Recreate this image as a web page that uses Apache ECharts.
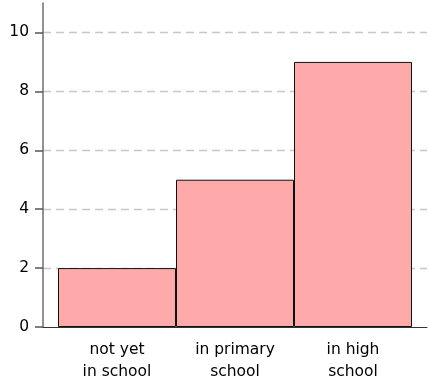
<!DOCTYPE html>
<html><head><meta charset="utf-8">
<script src="https://cdn.jsdelivr.net/npm/echarts@6/dist/echarts.min.js"></script>
<style>html,body{margin:0;padding:0;background:#fff}#c{width:429px;height:387px}</style>
</head><body><div id="c"></div>
<script>
const categories = ["not yet\nin school", "in primary\nschool", "in high\nschool"];
const values = [2, 5, 9];
const yTicks = [0, 2, 4, 6, 8, 10];

const chart = echarts.init(document.getElementById('c'), null, {renderer: 'canvas'});
const font = "DejaVu Sans";
chart.setOption({
  animation: false,
  grid: {left: 43, right: 2, top: 3, bottom: 60},
  xAxis: {
    type: 'value', min: -0.627, max: 2.627,
    axisLine: {show: true, onZero: false, lineStyle: {color: '#333', width: 1}},
    axisTick: {show: false},
    splitLine: {show: false},
    axisLabel: {
      customValues: [0, 1, 2],
      formatter: v => categories[Math.round(v)] || '',
      fontFamily: font, fontSize: 15.5, color: '#000', lineHeight: 22, margin: 12
    }
  },
  yAxis: {
    type: 'value', min: 0, max: 11, interval: 2,
    axisLine: {show: true, onZero: false, lineStyle: {color: '#6e6e6e', width: 1.5}},
    axisTick: {show: true, inside: false, length: 8, lineStyle: {color: '#555', width: 1.5}, customValues: yTicks},
    axisLabel: {customValues: yTicks, fontFamily: font, fontSize: 15.5, color: '#000', margin: 14},
    splitLine: {show: true, showMinLine: false, lineStyle: {color: '#c8c8c8', type: [8, 5], width: 1.3}}
  },
  series: [{
    type: 'bar',
    barWidth: 118,
    data: values.map((v, i) => [i, v]),
    itemStyle: {color: '#ffaaaa', borderColor: '#111', borderWidth: 1}
  }]
});
</script></body></html>
